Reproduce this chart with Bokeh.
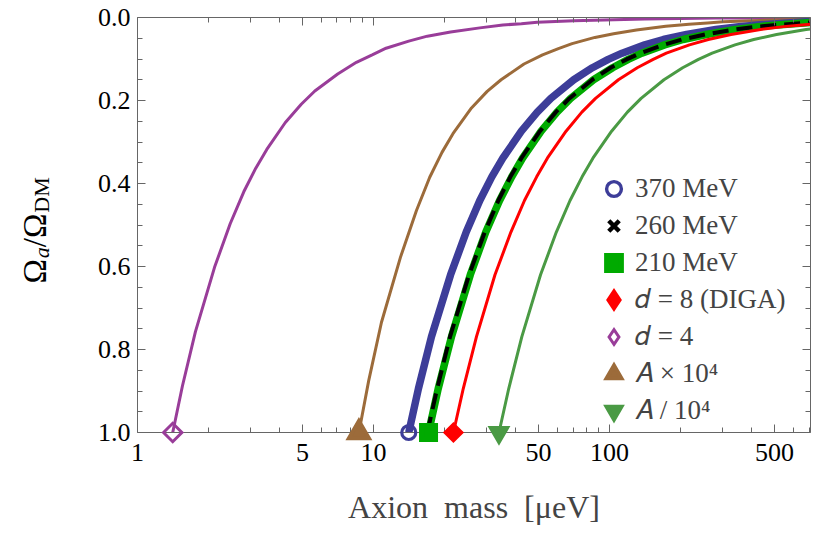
from math import pi
from bokeh.plotting import figure
from bokeh.models import (Range1d, LogAxis, LinearAxis, FixedTicker, PrintfTickFormatter,
                          CustomJSTickFormatter, Legend, LegendItem)
from bokeh.core.properties import value
from bokeh.embed import file_html
from bokeh.resources import INLINE

# ---------------- data ----------------
x_ticks = [1, 5, 10, 50, 100, 500]
x_minor = [2, 3, 4, 6, 7, 8, 9, 20, 30, 40, 60, 70, 80, 90, 200, 300, 400, 600, 700]
y_ticks = [0.0, 0.2, 0.4, 0.6, 0.8, 1.0]
y_minor = [0.05, 0.1, 0.15, 0.25, 0.3, 0.35, 0.45, 0.5, 0.55, 0.65, 0.7, 0.75, 0.85, 0.9, 0.95]

# d = 4
m_d4 = [1.41, 1.55, 1.76, 2.12, 2.47, 2.82, 3.17, 3.53, 4.23, 4.94, 5.64, 7.05, 8.46, 9.87,
        11.3, 14.1, 16.9, 21.2, 28.2, 35.3, 42.3, 49.4, 70.5, 141, 282, 710]
o_d4 = [1.0, 0.888, 0.757, 0.602, 0.497, 0.420, 0.363, 0.318, 0.253, 0.209, 0.177, 0.136, 0.108, 0.090,
        0.074, 0.057, 0.045, 0.035, 0.025, 0.018, 0.015, 0.0117, 0.008, 0.0035, 0.0015, 0.0005]
# A x 10^4
m_ax = [8.67, 9.54, 10.8, 13.0, 15.2, 17.3, 19.5, 21.7, 26.0, 30.3, 34.7, 43.4, 52.0, 60.7,
        69.4, 86.7, 104, 130, 173, 217, 260, 303, 434, 710]
o_ax = [1.0, 0.875, 0.735, 0.578, 0.465, 0.385, 0.325, 0.280, 0.218, 0.178, 0.150, 0.112, 0.090, 0.075,
        0.063, 0.048, 0.039, 0.030, 0.021, 0.016, 0.013, 0.0105, 0.007, 0.004]
# 370 MeV
m_370 = [14.1, 15.5, 17.6, 21.2, 24.7, 28.2, 31.7, 35.3, 42.3, 49.4, 56.4, 70.5, 84.6, 98.7,
         113, 141, 169, 212, 282, 353, 423, 564, 710]
o_370 = [1.0, 0.894, 0.769, 0.620, 0.517, 0.441, 0.384, 0.339, 0.274, 0.228, 0.195, 0.150, 0.121, 0.101,
         0.086, 0.066, 0.053, 0.041, 0.029, 0.022, 0.018, 0.013, 0.0098]
# 260 MeV
m_260 = [16.9, 18.6, 21.1, 25.4, 29.6, 33.8, 38.0, 42.3, 50.7, 59.2, 67.6, 84.5, 101, 118,
         135, 169, 203, 254, 338, 423, 507, 710]
o_260 = [1.0, 0.894, 0.769, 0.620, 0.517, 0.441, 0.384, 0.339, 0.274, 0.228, 0.195, 0.150, 0.121, 0.101,
         0.086, 0.066, 0.053, 0.041, 0.029, 0.022, 0.018, 0.0122]
# 210 MeV
m_210 = [17.1, 18.8, 21.4, 25.7, 29.9, 34.2, 38.5, 42.8, 51.3, 59.9, 68.4, 85.5, 103, 120,
         137, 171, 205, 257, 342, 428, 513, 710]
o_210 = [1.0, 0.894, 0.769, 0.620, 0.517, 0.441, 0.384, 0.339, 0.274, 0.228, 0.195, 0.150, 0.121, 0.101,
         0.086, 0.066, 0.053, 0.041, 0.029, 0.022, 0.018, 0.0123]
# d = 8 (DIGA)
m_d8 = [21.8, 24.0, 27.3, 32.7, 38.2, 43.6, 49.1, 54.5, 65.4, 76.3, 87.2, 109, 131, 153,
        174, 218, 262, 327, 436, 545, 654, 710]
o_d8 = [1.0, 0.894, 0.769, 0.620, 0.517, 0.441, 0.384, 0.339, 0.274, 0.228, 0.195, 0.150, 0.121, 0.101,
        0.086, 0.066, 0.053, 0.041, 0.029, 0.022, 0.018, 0.0164]
# A / 10^4
m_ad = [34.0, 37.4, 42.5, 51.0, 59.5, 68.0, 76.5, 85.0, 102, 119, 136, 170, 204, 238,
        272, 340, 408, 510, 680, 710]
o_ad = [1.0, 0.894, 0.769, 0.620, 0.517, 0.441, 0.384, 0.339, 0.274, 0.228, 0.195, 0.150, 0.121, 0.101,
        0.086, 0.066, 0.053, 0.041, 0.029, 0.0277]

labels = ["370 MeV", "260 MeV", "210 MeV", "\U0001D451 = 8 (DIGA)", "\U0001D451 = 4",
          "\U0001D434 \u00d7 10\u2074", "\U0001D434 / 10\u2074"]

# ---------------- styles ----------------
SERIF = "Liberation Serif"
PURPLE = "#993D99"
BROWN = "#9C6B3A"
BLUE = "#3D3D99"
GREEN = "#00AA00"
RED = "#FF0000"
GREEN2 = "#4A9A44"
AXC = "#666666"

p = figure(width=814, height=529, x_axis_type="log",
           x_range=Range1d(1, 710), y_range=Range1d(1.0, 0.0),
           output_backend="svg", toolbar_location=None,
           min_border_left=137, min_border_right=4, min_border_top=17, min_border_bottom=97)
p.outline_line_color = None
p.xgrid.visible = False
p.ygrid.visible = False
p.background_fill_color = "white"

xt = FixedTicker(ticks=x_ticks, minor_ticks=x_minor)
yt = FixedTicker(ticks=y_ticks, minor_ticks=y_minor)
blank = CustomJSTickFormatter(code="return ''")

def style(ax):
    ax.axis_line_color = AXC
    ax.major_tick_line_color = AXC
    ax.minor_tick_line_color = AXC
    ax.major_tick_in = 8
    ax.major_tick_out = 0
    ax.minor_tick_in = 5
    ax.minor_tick_out = 0
    ax.major_label_text_font = SERIF
    ax.major_label_text_color = "black"
    ax.major_label_text_font_size = "26px"

xa = p.xaxis[0]
xa.ticker = xt
xa.formatter = PrintfTickFormatter(format="%d")
style(xa)
xa.major_label_standoff = 11
xa.axis_label = "Axion\u00a0\u00a0mass\u00a0\u00a0[\u03bceV]"
xa.axis_label_text_font = SERIF
xa.axis_label_text_font_style = "normal"
xa.axis_label_text_font_size = "32px"
xa.axis_label_standoff = 25

ya = p.yaxis[0]
ya.ticker = yt
ya.formatter = PrintfTickFormatter(format="%.1f")
style(ya)
ya.major_label_standoff = 7

ta = LogAxis(ticker=xt, formatter=blank)
style(ta)
ta.major_label_standoff = 0
p.add_layout(ta, "above")
ra = LinearAxis(ticker=yt, formatter=blank)
style(ra)
ra.major_label_standoff = 0
p.add_layout(ra, "right")

# ---------------- curves ----------------
p.line(m_d4, o_d4, line_color=PURPLE, line_width=3)
p.line(m_ax, o_ax, line_color=BROWN, line_width=3)
p.line(m_370, o_370, line_color=BLUE, line_width=7.5)
p.line(m_210, o_210, line_color=GREEN, line_width=7.5)
p.line(m_260, o_260, line_color="black", line_width=4, line_dash="16 8")
p.line(m_d8, o_d8, line_color=RED, line_width=3)
p.line(m_ad, o_ad, line_color=GREEN2, line_width=3)

# ---------------- legend symbols (size 0: they only show inside the legend) ----------------
z = dict(size=0, line_join="miter")
g1 = p.scatter([m_370[0]], [o_370[0]], marker="circle", fill_color=None, line_color=BLUE,
               line_width=3.4, **z)
g2 = p.scatter([m_260[0]], [o_260[0]], marker="x", line_color="black", line_width=4.5, **z)
g3 = p.scatter([m_210[0]], [o_210[0]], marker="square", fill_color=GREEN, line_color=GREEN,
               line_width=5, **z)
g4 = p.scatter([m_d8[0]], [o_d8[0]], marker="diamond", fill_color=RED, line_color=RED,
               line_width=5, **z)
g5 = p.scatter([m_d4[0]], [o_d4[0]], marker="diamond", fill_color=None, line_color=PURPLE,
               line_width=3, **z)
g6 = p.scatter([m_ax[0]], [o_ax[0]], marker="triangle", fill_color=BROWN, line_color=BROWN,
               line_width=4, **z)
g7 = p.scatter([m_ad[0]], [o_ad[0]], marker="inverted_triangle", fill_color=GREEN2,
               line_color=GREEN2, line_width=4, **z)

# ---------------- start markers (overlay level so they are not clipped) ----------------
mk = dict(level="overlay", line_join="miter")
p.scatter([m_370[0]], [o_370[0]], marker="circle", size=14, fill_color=None,
          line_color=BLUE, line_width=3.2, **mk)
p.scatter([m_260[0]], [o_260[0]], marker="x", size=15, line_color="black", line_width=4.5, **mk)
p.scatter([m_210[0]], [o_210[0]], marker="square", size=14, fill_color=GREEN,
          line_color=GREEN, line_width=5, **mk)
p.scatter([m_d8[0]], [o_d8[0]], marker="square", angle=pi / 4, size=12,
          fill_color=RED, line_color=RED, line_width=3, **mk)
p.scatter([m_d4[0]], [o_d4[0]], marker="square", angle=pi / 4, size=13, fill_color=None,
          line_color=PURPLE, line_width=3, **mk)
p.scatter([m_ax[0]], [o_ax[0]], marker="triangle", size=20, fill_color=BROWN,
          line_color=BROWN, line_width=4, **mk)
p.scatter([m_ad[0]], [o_ad[0]], marker="inverted_triangle", size=16,
          fill_color=GREEN2, line_color=GREEN2, line_width=4, **mk)

legend = Legend(items=[LegendItem(label=l, renderers=[r]) for l, r in
                       zip(labels, [g1, g2, g3, g4, g5, g6, g7])],
                location=(458, 3))
legend.glyph_width = 37
legend.glyph_height = 37
legend.label_height = 37
legend.spacing = 0
legend.padding = 0
legend.margin = 0
legend.label_standoff = 3
legend.border_line_color = None
legend.background_fill_alpha = 0
legend.label_text_font = SERIF
legend.label_text_font_size = "27px"
legend.label_text_baseline = "middle"
p.add_layout(legend)

# ---------------- y-axis label: text glyphs at overlay level, left of the frame ----------------
def ylab(text, x, y, size, italic=False):
    p.text(x=[x], y=[y], text=[text], angle=pi / 2, level="overlay",
           text_font=value(SERIF), text_font_size=value(size),
           text_font_style="italic" if italic else "normal",
           text_align="left", text_baseline="alphabetic", text_color="black")

ylab("\u03a9", 0.3697, 0.641, "33px")
ylab("a", 0.392, 0.580, "22px", italic=True)
ylab("/\u03a9", 0.3697, 0.5535, "33px")
ylab("DM", 0.392, 0.4704, "22px")

open("out.html", "w").write(file_html(p, INLINE))
